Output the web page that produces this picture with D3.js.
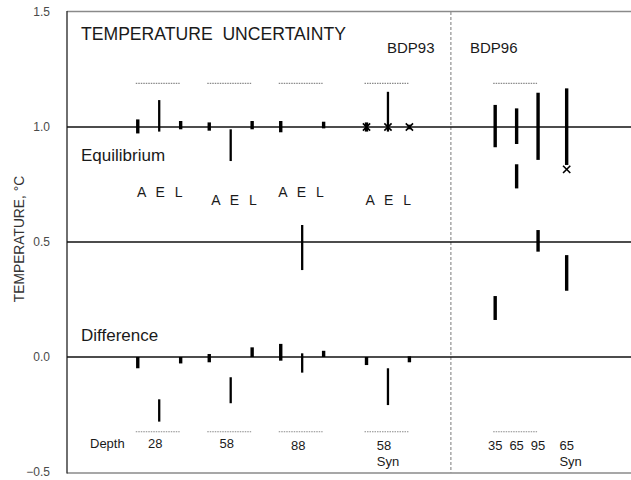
<!DOCTYPE html>
<html><head><meta charset="utf-8">
<script src="https://cdn.jsdelivr.net/npm/d3@7"></script>
<style>
body{margin:0;background:#fff}
svg{display:block;font-family:"Liberation Sans",Arial,Helvetica,sans-serif}
</style>
</head><body>
<svg id="chart" width="631" height="480"></svg>
<script>
// ---------- data ----------
const categories = ["28 A","28 E","28 L","58 A","58 E","58 L","88 A","88 E","88 L",
                    "58 Syn A","58 Syn E","58 Syn L","35","65","95","65 Syn"];
const slot   = [0,3,6,10,13,16,20,23,26,32,35,38,50,53,56,60];
const method = ["A","E","L","A","E","L","A","E","L","A","E","L","","","",""];
const eqLow    = [0.972,0.980,0.990,0.984,0.852,0.990,0.977,0.378,0.994,0.980,0.980,0.990,0.912,0.926,0.857,0.835];
const eqHigh   = [1.033,1.117,1.026,1.020,0.990,1.026,1.026,0.574,1.023,1.020,1.153,1.010,1.096,1.081,1.149,1.168];
const diffLow  = [-0.049,-0.281,-0.028,-0.023,-0.201,0.000,-0.016,-0.068,0.000,-0.035,-0.209,-0.023,0.161,0.733,0.458,0.288];
const diffHigh = [0.000,-0.184,0.000,0.013,-0.088,0.042,0.057,0.016,0.027,0.000,-0.049,0.003,0.265,0.838,0.552,0.443];
const markerCats   = ["58 Syn A","58 Syn E","58 Syn L","65 Syn"];
const markerValues = [1.0,1.0,1.0,0.816];
const yTicks   = [-0.5,0.0,0.5,1.0,1.5];
const refLines = [0.0,0.5,1.0];
const groupFirst = ["28 A","58 A","88 A","58 Syn A","35"];
const groupLast  = ["28 L","58 L","88 L","58 Syn L","95"];
const aelAnchor  = ["28 E","58 E","88 E","58 Syn E"];
const depthLabels = ["28","58","88","58","35","65","95","65"];
const depthAnchor = ["28 E","58 E","88 E","58 Syn E","35","65","95","65 Syn"];
const depthSub    = ["","","","Syn","","","","Syn"];
const dividerSlot = 43.8;

// ---------- layout ----------
const svg = d3.select("#chart");
const L = 67, R = 631, T = 12, B = 472;
const x = d3.scaleLinear().domain([-9.9, 69]).range([L, R]);
const y = d3.scaleLinear().domain([-0.5, 1.5]).range([B, T]);
const sx = {}; categories.forEach((c,i)=> sx[c] = x(slot[i]));
const ink = "#1a1a1a";

// frame
svg.append("line").attr("x1",L).attr("x2",R).attr("y1",y(1.5)-0.5).attr("y2",y(1.5)-0.5)
  .attr("stroke","#8a8a8a").attr("stroke-width",1.3);
svg.append("line").attr("x1",L).attr("x2",R).attr("y1",y(-0.5)+1).attr("y2",y(-0.5)+1)
  .attr("stroke","#8a8a8a").attr("stroke-width",1.3);
svg.append("line").attr("x1",L).attr("x2",L).attr("y1",y(1.5)-1).attr("y2",y(-0.5)+1.5)
  .attr("stroke","#333").attr("stroke-width",1.4);

// y axis labels
const yAxis = d3.axisLeft(y).tickValues(yTicks).tickSize(0).tickPadding(17).tickFormat(d3.format(".1f"));
const gy = svg.append("g").attr("transform",`translate(${L},0)`).call(yAxis);
gy.select(".domain").remove();
gy.selectAll("text").attr("font-size",12).attr("fill","#4a4a4a")
  .attr("font-family",'"Liberation Sans",Arial,sans-serif');

svg.append("text").attr("transform","translate(24,239) rotate(-90)")
  .attr("text-anchor","middle").attr("font-size",13.8).attr("fill","#333")
  .text("TEMPERATURE, °C");

// divider
svg.append("line").attr("x1",x(dividerSlot)).attr("x2",x(dividerSlot))
  .attr("y1",y(1.5)).attr("y2",y(-0.5)+1)
  .attr("stroke","#999").attr("stroke-width",1.3).attr("stroke-dasharray","3,2");

// reference lines
svg.selectAll("line.ref").data(refLines).join("line").attr("class","ref")
  .attr("x1",L).attr("x2",R).attr("y1",d=>y(d)).attr("y2",d=>y(d))
  .attr("stroke","#111").attr("stroke-width",1.6);

// dotted group lines
[y(1.19), y(-0.325)].forEach(yy=>{
  svg.selectAll(null).data(groupFirst).join("line")
    .attr("x1",d=>sx[d]-2).attr("x2",(d,i)=>sx[groupLast[i]]-1)
    .attr("y1",yy).attr("y2",yy)
    .attr("stroke","#8a8a8a").attr("stroke-width",1.2).attr("stroke-dasharray","1.5,1");
});

// bars
const bw = (i)=> method[i]==="E" ? 2.3 : 3.4;
function bars(lo, hi){
  svg.append("g").selectAll("line").data(categories).join("line")
    .attr("x1",d=>sx[d]).attr("x2",d=>sx[d])
    .attr("y1",(d,i)=>y(hi[i])).attr("y2",(d,i)=>y(lo[i]))
    .attr("stroke","#000").attr("stroke-width",(d,i)=>bw(i));
}
bars(eqLow, eqHigh);
bars(diffLow, diffHigh);

// markers
const symType = d3.symbolTimes || d3.symbolX || d3.symbolCross;
svg.append("g").selectAll("path").data(markerCats).join("path")
  .attr("transform",(d,i)=>`translate(${sx[d]},${y(markerValues[i])})`)
  .attr("d",d3.symbol(symType,36)())
  .attr("fill","none").attr("stroke","#000").attr("stroke-width",1.6);

// annotations
svg.append("text").attr("x",81).attr("y",40).attr("font-size",17.6).attr("fill",ink)
  .attr("xml:space","preserve").style("white-space","pre").text("TEMPERATURE  UNCERTAINTY");
svg.append("text").attr("x",387).attr("y",53).attr("font-size",15).attr("fill",ink).text("BDP93");
svg.append("text").attr("x",470).attr("y",53).attr("font-size",15).attr("fill",ink).text("BDP96");
svg.append("text").attr("x",81).attr("y",161).attr("font-size",17).attr("fill",ink).text("Equilibrium");
svg.append("text").attr("x",81).attr("y",341).attr("font-size",17).attr("fill",ink).text("Difference");

// A E L labels
const aelDx = [2,4.8,0.3,1.8];
svg.append("g").selectAll("text").data(aelAnchor).join("text")
  .attr("x",(d,i)=>sx[d]+aelDx[i]).attr("y",(d,i)=> i%2 ? 205 : 197)
  .attr("text-anchor","middle").attr("font-size",14).attr("letter-spacing",3)
  .attr("fill",ink).style("white-space","pre").text("A E L");

// depth labels
svg.append("text").attr("x",90).attr("y",448).attr("font-size",13).attr("fill",ink).text("Depth");
svg.append("g").selectAll("text").data(depthLabels).join("text")
  .attr("x",(d,i)=> sx[depthAnchor[i]] - (i<4 ? 4 : 0))
  .attr("y",(d,i)=> i<2 ? 448 : 450)
  .attr("text-anchor","middle").attr("font-size",13).attr("fill",ink).text(d=>d);
svg.append("g").selectAll("text").data(depthSub.map((s,i)=>({s,i})).filter(o=>o.s)).join("text")
  .attr("x",o=> sx[depthAnchor[o.i]] + (o.i<4 ? 0 : 4))
  .attr("y",466).attr("text-anchor","middle").attr("font-size",13).attr("fill",ink).text(o=>o.s);
</script>
</body></html>
